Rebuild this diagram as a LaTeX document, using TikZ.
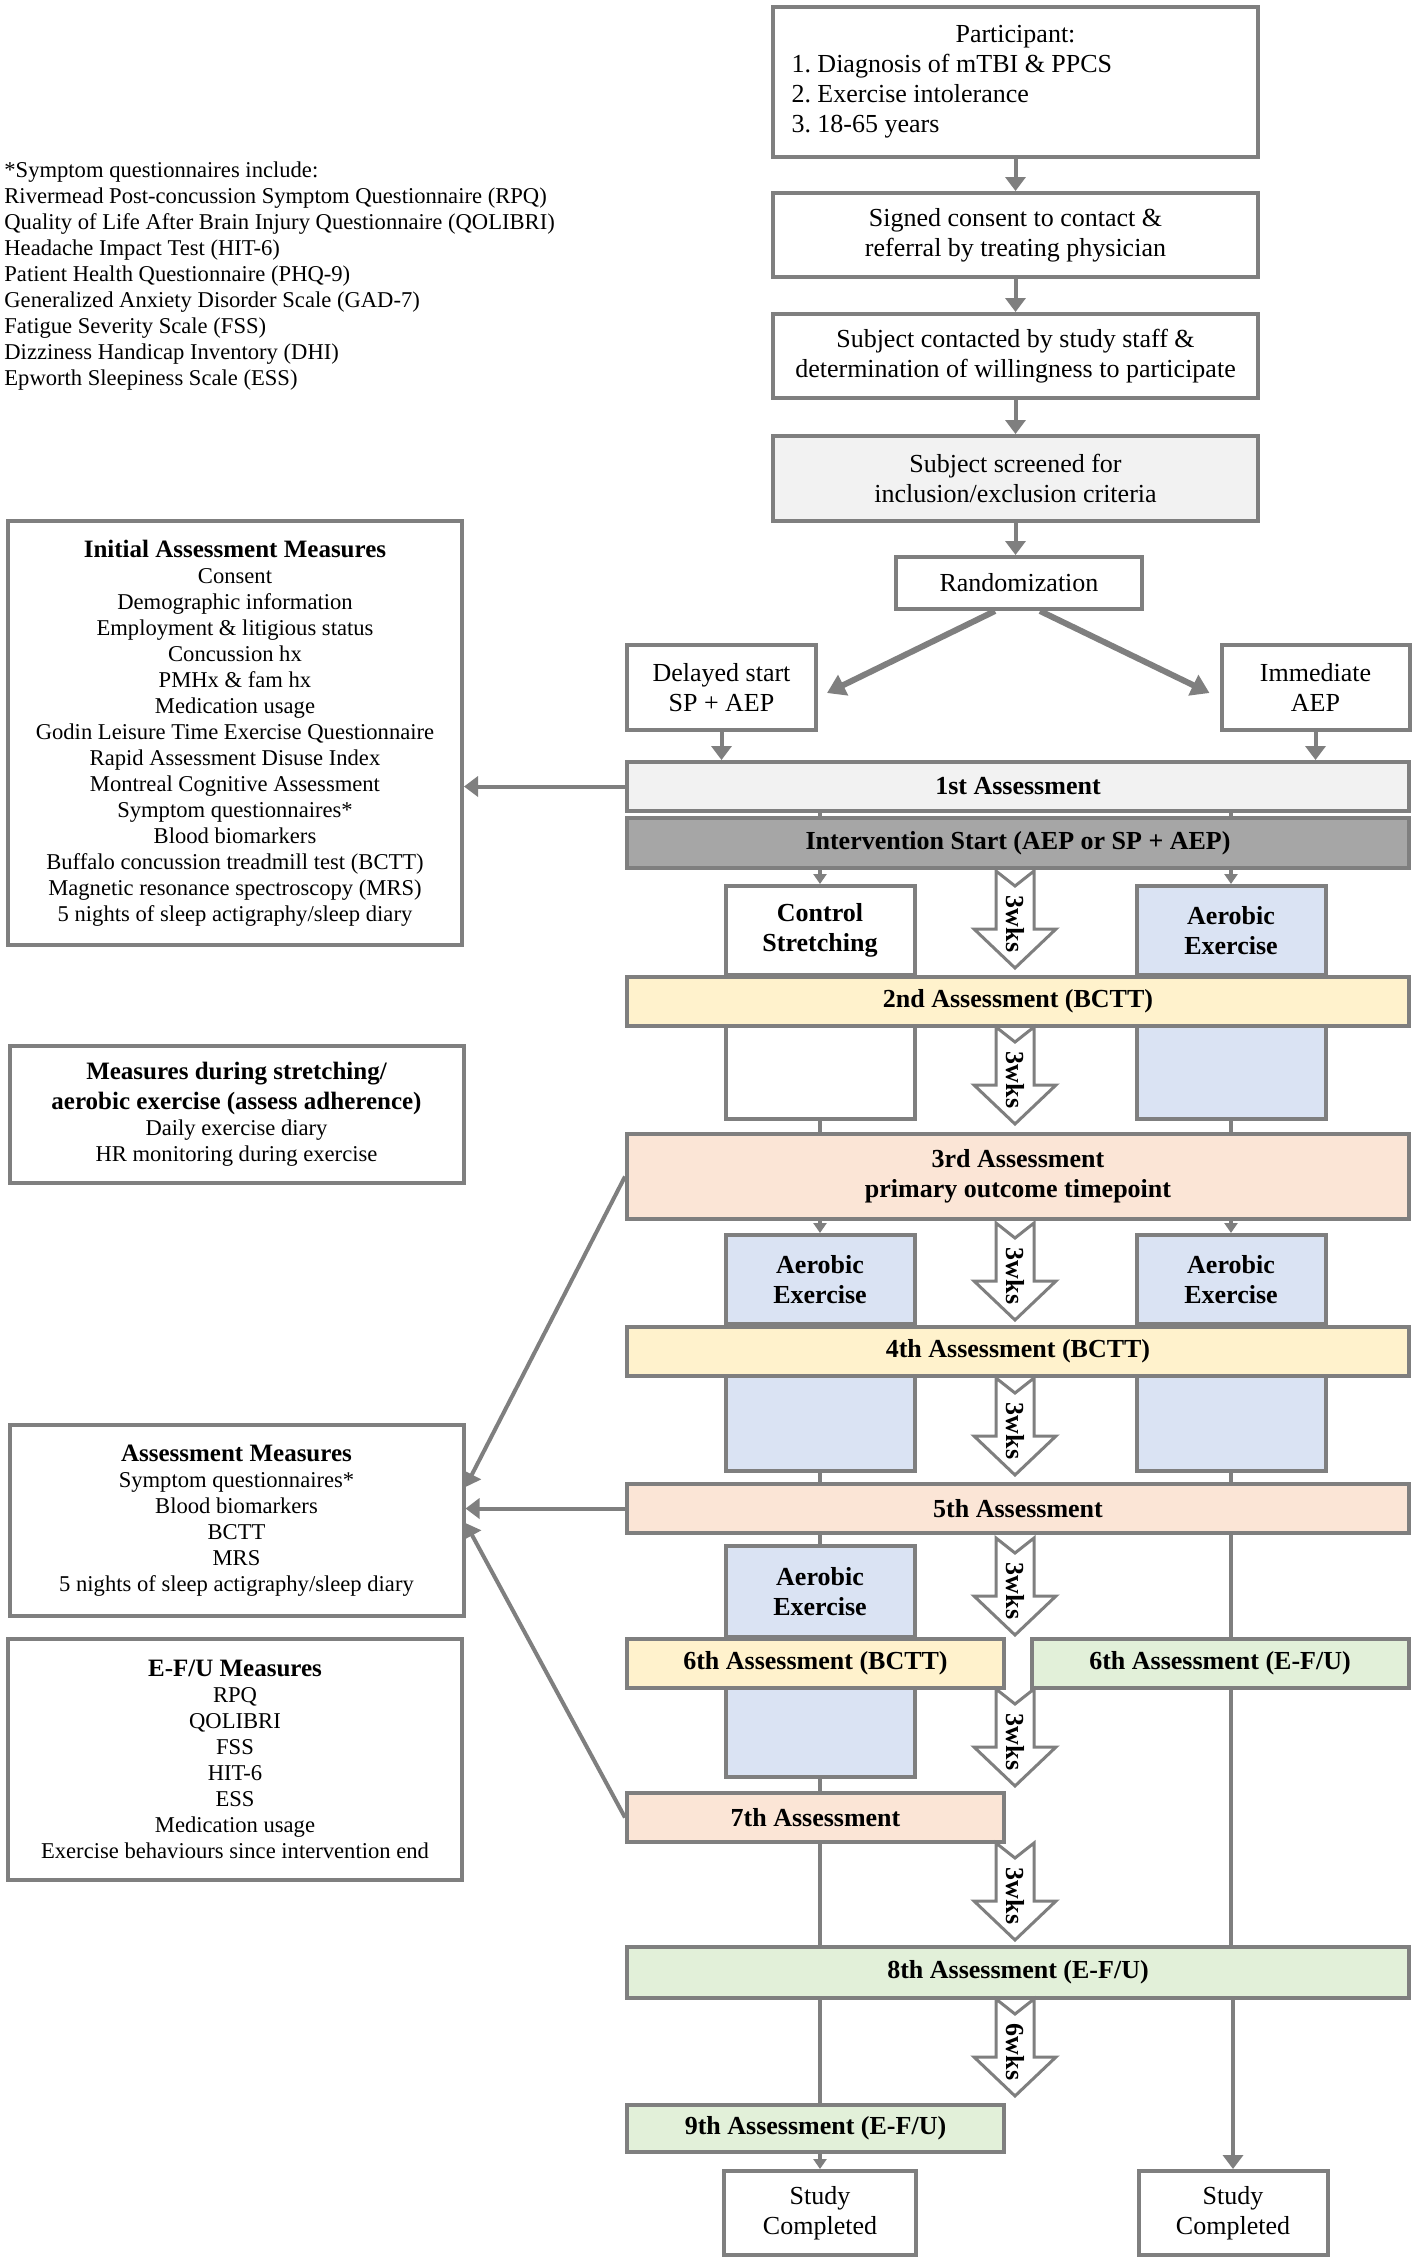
\documentclass[tikz,border=0pt]{standalone}
\usepackage{fontspec}
\setmainfont{Liberation Serif}
\usetikzlibrary{arrows.meta}
\definecolor{linegray}{HTML}{7F7F7F}
\definecolor{lightfill}{HTML}{F2F2F2}
\definecolor{darkfill}{HTML}{A6A6A6}
\definecolor{assyellow}{HTML}{FFF2CC}
\definecolor{aerblue}{HTML}{DAE3F3}
\definecolor{asspeach}{HTML}{FBE5D6}
\definecolor{assgreen}{HTML}{E2F0D9}

\begin{document}
\begin{tikzpicture}[x=0.5pt, y=-0.5pt,
		box/.style={draw=linegray, line width=2pt, fill=white, align=center, inner sep=2pt,
			font=\fontsize{13}{15}\selectfont},
		wide/.style={box, minimum width=391pt, minimum height=24.5pt, font=\fontsize{13}{15}\selectfont\bfseries},
		half/.style={box, minimum width=188.5pt, minimum height=24.5pt, font=\fontsize{13}{15}\selectfont\bfseries},
		col/.style={box, minimum width=94.5pt, font=\fontsize{13}{15}\selectfont\bfseries},
		side/.style={box, minimum width=227pt, font=\fontsize{11.3}{13}\selectfont},
		arr/.style={draw=linegray, line width=2pt, -{Triangle[length=7pt,width=10pt]}},
		bigarr/.style={draw=linegray, line width=3pt, -{Triangle[length=9pt,width=11pt]}},
		tip/.style={draw=linegray, line width=2pt, -{Triangle[length=5pt,width=6.5pt]}},
		link/.style={draw=linegray, line width=2pt},
		hollow/.style={draw=linegray, line width=1.5pt, fill=white, line join=miter},
		pics/wks/.style={code={
			\draw[hollow] (-9.5pt,0) -- (0,-7.5pt) -- (9.5pt,0) -- (9.5pt,-29pt) -- (20.5pt,-29pt)
				-- (0,-48.5pt) -- (-20.5pt,-29pt) -- (-9.5pt,-29pt) -- cycle;
			\node[rotate=-90, inner sep=0pt, font=\fontsize{13}{15}\selectfont\bfseries] (-lbl) at (0,-26.5pt) {#1wks};
		}}
		]
	\useasboundingbox (0,0) rectangle (1418,2261);
	
	% enrolment
	\node[box, minimum width=242.5pt, minimum height=75pt, align=left] (part) at (1015.5,82)
		{\makebox[224pt]{Participant:}\\1.\ Diagnosis of mTBI \& PPCS\\2.\ Exercise intolerance\\3.\ 18-65 years};
	\node[box, minimum width=242.5pt, minimum height=42pt] (consent) at (1015.5,235) {Signed consent to contact \&\\referral by treating physician};
	\node[box, minimum width=242.5pt, minimum height=42pt] (contact) at (1015.5,356) {Subject contacted by study staff \&\\determination of willingness to participate};
	\node[box, fill=lightfill, minimum width=242.5pt, minimum height=42.5pt] (screen) at (1015.5,478.5) {Subject screened for\\inclusion/exclusion criteria};
	\node[box, minimum width=123pt, minimum height=26pt] (rand) at (1019,583) {Randomization};
	\node[box, minimum width=94.5pt, minimum height=42.5pt] (delay) at (721.5,687.5) {Delayed start\\SP + AEP};
	\node[box, minimum width=94pt, minimum height=42.5pt] (immed) at (1315.5,687.5) {Immediate\\AEP};
	
	% assessments and intervention columns
	\node[wide, fill=lightfill] (a1) at (1018,786.5) {1st Assessment};
	\node[wide, fill=darkfill, minimum height=25pt] (start) at (1018,843) {Intervention Start (AEP or SP + AEP)};
	\node[col, minimum height=44.5pt] (ctrl) at (820,930.5) {Control\\Stretching};
	\node[col, fill=aerblue, minimum height=44.5pt] (aerR1) at (1231,930.5) {Aerobic\\Exercise};
	\node[wide, fill=assyellow] (a2) at (1018,1001.5) {2nd Assessment (BCTT)};
	\node[col, minimum height=46.5pt] (ctrl2) at (820,1072.5) {};
	\node[col, fill=aerblue, minimum height=46.5pt] (aerR2) at (1231,1072.5) {};
	\node[wide, fill=asspeach, minimum height=42.5pt] (a3) at (1018,1176.5) {3rd Assessment\\primary outcome timepoint};
	\node[col, fill=aerblue, minimum height=44.5pt] (aerL3) at (820,1279.5) {Aerobic\\Exercise};
	\node[col, fill=aerblue, minimum height=44.5pt] (aerR3) at (1231,1279.5) {Aerobic\\Exercise};
	\node[wide, fill=assyellow] (a4) at (1018,1351.5) {4th Assessment (BCTT)};
	\node[col, fill=aerblue, minimum height=47.5pt] (aerL4) at (820,1423.5) {};
	\node[col, fill=aerblue, minimum height=47.5pt] (aerR4) at (1231,1423.5) {};
	\node[wide, fill=asspeach] (a5) at (1018,1508.5) {5th Assessment};
	\node[col, fill=aerblue, minimum height=45.5pt] (aerL5) at (820,1591.5) {Aerobic\\Exercise};
	\node[half, fill=assyellow] (a6) at (815.5,1663.5) {6th Assessment (BCTT)};
	\node[half, fill=assgreen] (a6f) at (1220,1663.5) {6th Assessment (E-F/U)};
	\node[col, fill=aerblue, minimum height=44.5pt] (aerL6) at (820,1732.5) {};
	\node[half, fill=asspeach] (a7) at (815.5,1817.5) {7th Assessment};
	\node[wide, fill=assgreen, minimum height=25.5pt] (a8) at (1018,1972.5) {8th Assessment (E-F/U)};
	\node[half, fill=assgreen, minimum height=23.5pt] (a9) at (815.5,2128.5) {9th Assessment (E-F/U)};
	\node[box, minimum width=96pt, minimum height=42pt] (doneL) at (820,2213) {Study\\Completed};
	\node[box, minimum width=94.5pt, minimum height=42pt] (doneR) at (1233,2213) {Study\\Completed};
	
	% measures
	\node[anchor=north west, align=left, inner sep=0pt, font=\fontsize{11.3}{13}\selectfont] (notes) at (4,161)
		{*Symptom questionnaires include:\\Rivermead Post-concussion Symptom Questionnaire (RPQ)\\Quality of Life After Brain Injury Questionnaire (QOLIBRI)\\Headache Impact Test (HIT-6)\\Patient Health Questionnaire (PHQ-9)\\Generalized Anxiety Disorder Scale (GAD-7)\\Fatigue Severity Scale (FSS)\\Dizziness Handicap Inventory (DHI)\\Epworth Sleepiness Scale (ESS)};
	\node[side, minimum height=212pt] (init) at (235,733)
		{{\fontsize{12.5}{15}\selectfont\bfseries Initial Assessment Measures}\\Consent\\Demographic information\\Employment \& litigious status\\Concussion hx\\PMHx \& fam hx\\Medication usage\\Godin Leisure Time Exercise Questionnaire\\Rapid Assessment Disuse Index\\Montreal Cognitive Assessment\\Symptom questionnaires*\\Blood biomarkers\\Buffalo concussion treadmill test (BCTT)\\Magnetic resonance spectroscopy (MRS)\\5 nights of sleep actigraphy/sleep diary};
	\node[side, minimum height=68.5pt] (during) at (236.5,1114.5)
		{{\fontsize{12.5}{15}\selectfont\bfseries Measures during stretching/}\\[2pt]{\fontsize{12.5}{15}\selectfont\bfseries aerobic exercise (assess adherence)}\\Daily exercise diary\\HR monitoring during exercise};
	\node[side, minimum height=95.5pt] (meas) at (236.5,1520.5)
		{{\fontsize{12.5}{15}\selectfont\bfseries Assessment Measures}\\Symptom questionnaires*\\Blood biomarkers\\BCTT\\MRS\\5 nights of sleep actigraphy/sleep diary};
	\node[side, minimum height=120.5pt] (efu) at (235,1759.5)
		{{\fontsize{12.5}{15}\selectfont\bfseries E-F/U Measures}\\RPQ\\QOLIBRI\\FSS\\HIT-6\\ESS\\Medication usage\\Exercise behaviours since intervention end};
	
	% connectors
	\draw[arr] (part) -- (consent);
	\draw[arr] (consent) -- (contact);
	\draw[arr] (contact) -- (screen);
	\draw[arr] (screen.south) -- (screen.south |- rand.north);
	\draw[bigarr] ([xshift=-12pt]rand.south) -- ([xshift=4.5pt,yshift=-2.75pt]delay.east);
	\draw[bigarr] ([xshift=10.5pt]rand.south) -- ([xshift=-5pt,yshift=-2.75pt]immed.west);
	\draw[arr] (delay.south) -- (delay.south |- a1.north);
	\draw[arr] (immed.south) -- (immed.south |- a1.north);
	\draw[link] (ctrl |- a1.south) -- (ctrl |- start.north);
	\draw[link] (aerR1 |- a1.south) -- (aerR1 |- start.north);
	\draw[tip] (ctrl |- start.south) -- (ctrl.north);
	\draw[tip] (aerR1 |- start.south) -- (aerR1.north);
	\draw[link] (ctrl2.south) -- (ctrl2 |- a3.north);
	\draw[link] (aerR2.south) -- (aerR2 |- a3.north);
	\draw[tip] (aerL3 |- a3.south) -- (aerL3.north);
	\draw[tip] (aerR3 |- a3.south) -- (aerR3.north);
	\draw[link] (aerL4.south) -- (aerL4 |- a5.north);
	\draw[link] (aerR4.south) -- (aerR4 |- a5.north);
	\draw[link] (aerL5 |- a5.south) -- (aerL5.north);
	\draw[link] (aerR4 |- a5.south) -- (aerR4 |- a6f.north);
	\draw[link] (aerL6.south) -- (aerL6 |- a7.north);
	\draw[link] (aerL6 |- a7.south) -- (aerL6 |- a8.north);
	\draw[link] (aerR4 |- a6f.south) -- (aerR4 |- a8.north);
	\draw[link] (aerL6 |- a8.south) -- (aerL6 |- a9.north);
	\draw[tip] (aerL6 |- a9.south) -- (doneL.north);
	\draw[arr] (doneR |- a8.south) -- (doneR.north);
	\draw[arr] (a1.west) -- (a1.west -| init.east);
	\draw[arr] (a5.west) -- (a5.west -| meas.east);
	\draw[arr] (a3.west) -- ([yshift=16.75pt]meas.east);
	\draw[arr] (a7.west) -- ([yshift=-1.25pt]meas.east);
	
	% time between assessments
	\pic (w1) at (1015,871) {wks=3};
	\pic (w2) at (1015,1027) {wks=3};
	\pic (w3) at (1015,1223) {wks=3};
	\pic (w4) at (1015,1378) {wks=3};
	\pic (w5) at (1015,1538) {wks=3};
	\pic (w6) at (1015,1689) {wks=3};
	\pic (w7) at (1015,1843) {wks=3};
	\pic (w8) at (1015,1999) {wks=6};
\end{tikzpicture}
\end{document}
